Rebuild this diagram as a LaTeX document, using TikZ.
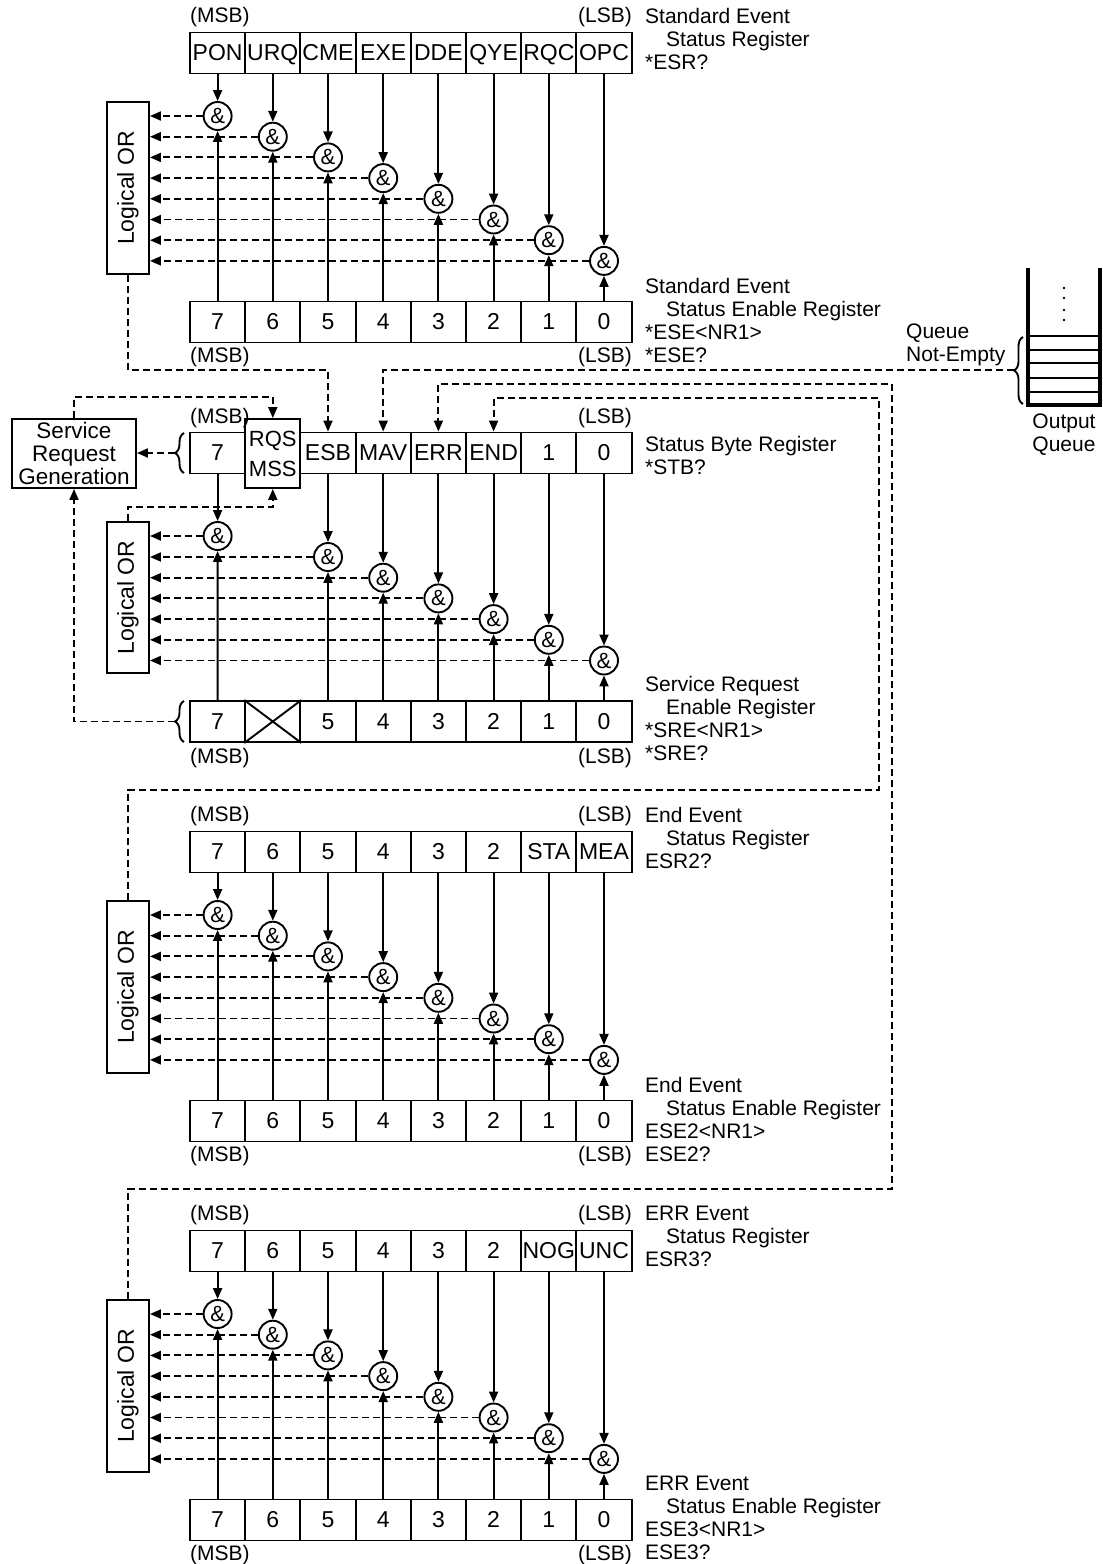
\documentclass[tikz,border=0pt]{standalone}
\usepackage{fontspec,graphicx}
\setmainfont{Liberation Sans}
\usetikzlibrary{positioning,calc,arrows.meta,decorations.pathreplacing}
\newcommand{\regfont}{\fontsize{21}{23}\selectfont}
\newcommand{\cellfont}{\fontsize{23}{25}\selectfont}
\tikzset{
  sline/.style={line width=1.9pt},
  dline/.style={line width=1.9pt, dash pattern=on 7pt off 4pt},
  cell/.style={draw, line width=1.9pt, minimum width=55.2pt, minimum height=41pt, inner sep=0pt,
               text height=16.5pt, text depth=1.5pt, font=\cellfont},
  andg/.style={circle, draw, line width=1.9pt, minimum size=28pt, inner sep=0pt,
               text height=15pt, text depth=0pt, font=\fontsize{22}{24}\selectfont},
  orbox/.style={draw, line width=1.9pt, minimum width=42pt, inner sep=0pt, font=\cellfont},
  lbl/.style={inner sep=0pt, font=\regfont, align=left},
  brc/.style={line width=1.9pt, decorate, decoration={brace, amplitude=9pt}},
  >={Triangle[length=11pt, width=9pt]}
}

\begin{document}
\begin{tikzpicture}[x=1pt, y=-1pt]
\useasboundingbox (0,0) rectangle (1103,1564);

\def\xO{190}
\def\cellW{55.2}

% --- EVENT BLOCKS: register, enable register, AND gates, OR box ---
\foreach \s/\yO/\labs in {A/0/{PON,URQ,CME,EXE,DDE,QYE,RQC,OPC},
                          C/799/{7,6,5,4,3,2,STA,MEA},
                          D/1198/{7,6,5,4,3,2,NOG,UNC}} {
  \node[orbox, minimum height=172pt] (or\s) at (128, \yO+188) {\rotatebox{90}{Logical OR}};
  \foreach \lab [count=\i from 0] in \labs {
    \pgfmathsetmacro\cx{\xO + (\i + 0.5) * \cellW}
    \pgfmathtruncatemacro\bit{7 - \i}
    \node[cell] (e\s\i) at (\cx, \yO+53) {\lab};
    \node[cell] (n\s\i) at (\cx, \yO+322) {\bit};
    \node[andg] (g\s\i) at (\cx, \yO+116+20.7*\i) {\&};
    \draw[sline,->] (e\s\i) -- (g\s\i);
    \draw[sline,->] (n\s\i) -- (g\s\i);
    \draw[dline,->] (g\s\i) -- (g\s\i -| or\s.east);
  }
  \node[lbl, anchor=west] (msbT\s) at (\xO, \yO+17) {(MSB)};
  \node[lbl, anchor=east] (lsbT\s) at (632, \yO+17) {(LSB)};
  \node[lbl, anchor=west] (msbB\s) at (\xO, \yO+357) {(MSB)};
  \node[lbl, anchor=east] (lsbB\s) at (632, \yO+357) {(LSB)};
}

% --- STATUS BYTE REGISTER ---
\node[cell] (sb0) at (217.6, 453) {7};
\node[cell, minimum height=69pt, align=center, text height=, text depth=, font=\fontsize{22}{24}\selectfont]
  (rqs) at (272.8, 453.5) {RQS\\[6pt]MSS};
\foreach \lab [count=\i from 2] in {ESB,MAV,ERR,END,1,0} {
  \pgfmathsetmacro\cx{\xO + (\i + 0.5) * \cellW}
  \node[cell] (sb\i) at (\cx, 453) {\lab};
}
\node[lbl, anchor=west] (msbS) at (\xO, 418) {(MSB)};
\node[lbl, anchor=east] (lsbS) at (632, 418) {(LSB)};

% --- SERVICE REQUEST ENABLE REGISTER + AND gates ---
\node[orbox, minimum height=151pt] (orB) at (128, 597.5) {\rotatebox{90}{Logical OR}};
\foreach \lab [count=\i from 0] in {7,,5,4,3,2,1,0} {
  \pgfmathsetmacro\cx{\xO + (\i + 0.5) * \cellW}
  \node[cell] (r\i) at (\cx, 721.5) {\lab};
}
\draw[sline] (r1.north west) -- (r1.south east) (r1.south west) -- (r1.north east);
\node[andg] (h0) at (217.6, 536) {\&};
\foreach \i in {2,...,7} {
  \pgfmathsetmacro\cx{\xO + (\i + 0.5) * \cellW}
  \node[andg] (h\i) at (\cx, 557+20.7*\i-41.4) {\&};
}
\foreach \i in {0,2,3,4,5,6,7} {
  \draw[sline,->] (sb\i) -- (h\i);
  \draw[sline,->] (r\i) -- (h\i);
  \draw[dline,->] (h\i) -- (h\i -| orB.east);
}
\node[lbl, anchor=west] (msbR) at (\xO, 758) {(MSB)};
\node[lbl, anchor=east] (lsbR) at (632, 758) {(LSB)};

% --- SERVICE REQUEST GENERATION ---
\node[draw, sline, minimum width=124pt, minimum height=69pt, inner sep=0pt,
      font=\fontsize{22.5}{23}\selectfont, align=center] (srg) at (74, 453.5) {Service\\Request\\Generation};
\draw[brc] (184, 473) -- (184, 433);
\coordinate (sbTip) at (175, 453);
\draw[brc] (184, 742) -- (184, 701);
\coordinate (srTip) at (175, 721.5);
\draw[dline,->] (sbTip) -- (sbTip -| srg.east);
\draw[dline,->] (srTip) -| (srg.south);
\draw[dline,->] (srg.north) -- ++(0,-21) -| (rqs.north);
\draw[dline,->] (orB.north) -- ++(0,-14) -| (rqs.south);

% --- SUMMARY LINES INTO STATUS BYTE ---
\coordinate (esbBend) at (128, 370);
\draw[dline,->] (orA.south) -- (esbBend) -| (sb2.north);
\coordinate (errLow) at (892, 1189);
\coordinate (errHigh) at (892, 384);
\draw[dline,->] (orD.north) |- (errLow) -- (errHigh) -| (sb4.north);
\coordinate (endLow) at (879, 790);
\coordinate (endHigh) at (879, 398);
\draw[dline,->] (orC.north) |- (endLow) -- (endHigh) -| (sb5.north);

% --- OUTPUT QUEUE ---
\draw[line width=4pt] (1028, 268) -- (1028, 405) -- (1100, 405) -- (1100, 268);
\foreach \qy in {336, 350, 363, 378, 392} {
  \draw[line width=1.2pt] (1028, \qy) -- (1100, \qy);
}
\foreach \qy in {288, 298, 310, 320} {
  \fill (1064, \qy) circle (1.3pt);
}
\draw[brc] (1023, 404) -- (1023, 337);
\coordinate (qTip) at (1014, 370);
\draw[dline,->] (qTip) -| (sb3.north);
\node[lbl, anchor=west] (qne) at (906, 345) {Queue\\Not-Empty};
\node[lbl, align=center] (oq) at (1064, 435) {Output\\Queue};

% --- REGISTER CAPTIONS ---
\node[lbl, anchor=west] (capA1) at (645, 38.5) {Standard Event\\\hspace*{21pt}Status Register\\*ESR?};
\node[lbl, anchor=west] (capA2) at (645, 320) {Standard Event\\\hspace*{21pt}Status Enable Register\\*ESE<NR1>\\*ESE?};
\node[lbl, anchor=west] (capS1) at (645, 455) {Status Byte Register\\*STB?};
\node[lbl, anchor=west] (capS2) at (645, 718.5) {Service Request\\\hspace*{21pt}Enable Register\\*SRE<NR1>\\*SRE?};
\node[lbl, anchor=west] (capC1) at (645, 837.5) {End Event\\\hspace*{21pt}Status Register\\ESR2?};
\node[lbl, anchor=west] (capC2) at (645, 1119) {End Event\\\hspace*{21pt}Status Enable Register\\ESE2<NR1>\\ESE2?};
\node[lbl, anchor=west] (capD1) at (645, 1236.5) {ERR Event\\\hspace*{21pt}Status Register\\ESR3?};
\node[lbl, anchor=west] (capD2) at (645, 1518) {ERR Event\\\hspace*{21pt}Status Enable Register\\ESE3<NR1>\\ESE3?};

\end{tikzpicture}
\end{document}
